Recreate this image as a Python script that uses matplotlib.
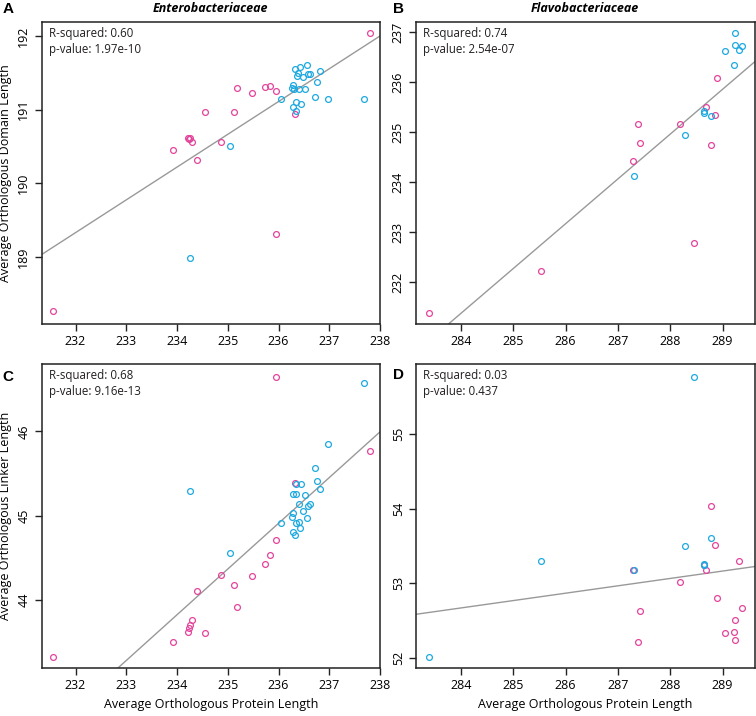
import matplotlib
matplotlib.use('Agg')
import matplotlib.pyplot as plt

plt.rcParams['font.family'] = ['Open Sans', 'DejaVu Sans']

pink = '#E2449C'
cyan = '#1DA9DF'

# Panel A - Enterobacteriaceae, domain length vs protein length
a_pink_x = [237.80, 235.19, 235.48, 235.73, 235.84, 235.95, 234.55, 235.12, 234.21, 234.25,
            234.24, 234.29, 233.93, 234.86, 234.40, 235.95, 231.55, 236.32]
a_pink_y = [192.04, 191.29, 191.22, 191.31, 191.32, 191.25, 190.97, 190.97, 190.62, 190.62,
            190.60, 190.56, 190.45, 190.56, 190.31, 189.31, 188.26, 190.94]
a_cyan_x = [236.56, 236.42, 236.32, 236.81, 236.39, 236.36, 236.49, 236.58, 236.62, 236.76,
            236.28, 236.27, 236.30, 236.41, 236.52, 236.05, 236.71, 236.98, 237.69, 236.35,
            236.45, 236.29, 236.35, 235.04, 234.26]
a_cyan_y = [191.60, 191.58, 191.55, 191.52, 191.50, 191.46, 191.45, 191.49, 191.49, 191.37,
            191.34, 191.29, 191.28, 191.28, 191.28, 191.15, 191.17, 191.14, 191.14, 191.10,
            191.08, 191.04, 190.98, 190.51, 188.99]

# Panel B - Flavobacteriaceae, domain length
b_pink_x = [283.38, 285.53, 288.45, 287.29, 287.38, 287.43, 288.18, 288.69, 288.86, 288.78, 288.90]
b_pink_y = [231.39, 232.23, 232.79, 234.43, 235.16, 234.79, 235.17, 235.51, 235.35, 234.75, 236.09]
b_cyan_x = [287.31, 288.28, 288.64, 288.64, 288.77, 289.22, 289.04, 289.24, 289.24, 289.38, 289.32]
b_cyan_y = [234.13, 234.95, 235.42, 235.39, 235.33, 236.35, 236.63, 236.99, 236.74, 236.73, 236.65]

# Panel C - Enterobacteriaceae, linker length
c_pink_x = [235.95, 237.80, 236.32, 235.95, 235.84, 235.73, 235.48, 234.86, 235.12, 235.19,
            234.40, 234.30, 234.26, 234.24, 234.21, 234.55, 233.93, 231.55]
c_pink_y = [46.65, 45.77, 45.39, 44.71, 44.53, 44.43, 44.28, 44.30, 44.17, 43.91,
            44.11, 43.76, 43.70, 43.66, 43.62, 43.60, 43.50, 43.32]
c_cyan_x = [237.69, 236.98, 236.71, 236.76, 236.81, 236.35, 236.45, 236.29, 236.35, 236.52,
            236.41, 236.58, 236.62, 236.49, 236.28, 236.27, 236.56, 236.05, 236.35, 236.41,
            236.42, 236.28, 236.32, 235.04, 234.26]
c_cyan_y = [46.57, 45.85, 45.56, 45.41, 45.31, 45.38, 45.37, 45.26, 45.26, 45.25,
            45.14, 45.11, 45.14, 45.05, 45.03, 44.98, 44.97, 44.91, 44.91, 44.92,
            44.85, 44.80, 44.77, 44.55, 45.29]

# Panel D - Flavobacteriaceae, linker length
d_pink_x = [288.78, 288.86, 289.32, 288.69, 288.18, 288.90, 289.38, 287.43, 289.24, 289.05,
            289.22, 289.24, 287.38, 287.29, 288.64]
d_pink_y = [54.03, 53.51, 53.30, 53.17, 53.01, 52.80, 52.66, 52.63, 52.50, 52.33,
            52.34, 52.24, 52.21, 53.18, 53.24]
d_cyan_x = [288.45, 283.38, 285.53, 287.30, 288.28, 288.77, 288.64, 288.64]
d_cyan_y = [55.77, 52.01, 53.30, 53.18, 53.50, 53.61, 53.26, 53.24]

# regression lines (slope, intercept) as drawn
fits = {'A': (0.445, 86.09), 'B': (0.896, -23.08), 'C': (0.543, -83.24), 'D': (0.099, 24.55)}
stats = {'A': ('0.60', '1.97e-10'), 'B': ('0.74', '2.54e-07'),
         'C': ('0.68', '9.16e-13'), 'D': ('0.03', '0.437')}

ento_xticks = [232, 233, 234, 235, 236, 237, 238]
flavo_xticks = [284, 285, 286, 287, 288, 289]

W, H = 756, 716
fig = plt.figure(figsize=(W / 100, H / 100), dpi=100)


def box(l, t, r, b):
    return [l / W, 1 - b / H, (r - l) / W, (b - t) / H]


panels = {
    'A': (box(41.5, 22, 380, 324), a_pink_x, a_pink_y, a_cyan_x, a_cyan_y,
          (231.33, 238.0), (188.09, 192.19), ento_xticks, [189, 190, 191, 192]),
    'B': (box(416, 22, 755, 324), b_pink_x, b_pink_y, b_cyan_x, b_cyan_y,
          (283.14, 289.62), (231.17, 237.21), flavo_xticks, [232, 233, 234, 235, 236, 237]),
    'C': (box(41.5, 364, 380, 668), c_pink_x, c_pink_y, c_cyan_x, c_cyan_y,
          (231.33, 238.0), (43.19, 46.80), ento_xticks, [44, 45, 46]),
    'D': (box(416, 364, 755, 668), d_pink_x, d_pink_y, d_cyan_x, d_cyan_y,
          (283.14, 289.62), (51.86, 55.94), flavo_xticks, [52, 53, 54, 55]),
}

axes = {}
for name, (pos, px, py, cx, cy, xl, yl, xt, yt) in panels.items():
    ax = fig.add_axes(pos)
    axes[name] = ax
    slope, icpt = fits[name]
    ax.axline((0, icpt), slope=slope, color='#999999', lw=1.0, zorder=1)
    ax.plot(px, py, 'o', mfc='none', mec=pink, ms=4.2, mew=0.9, zorder=2)
    ax.plot(cx, cy, 'o', mfc='none', mec=cyan, ms=4.2, mew=0.9, zorder=3)
    ax.set_xlim(xl)
    ax.set_ylim(yl)
    ax.set_xticks(xt)
    ax.set_yticks(yt)
    ax.set_yticklabels([str(v) for v in yt], rotation=90, va='center')
    ax.tick_params(direction='out', length=5, width=1, labelsize=9, pad=3, color='#222222')
    for s in ax.spines.values():
        s.set_linewidth(1.1)
        s.set_color('#222222')
    r2, pv = stats[name]
    ax.text(0.022, 0.985, 'R-squared: ' + r2 + '\np-value: ' + pv, transform=ax.transAxes,
            ha='left', va='top', fontsize=8.3, linespacing=1.35, color='#231f20')

axes['A'].set_ylabel('Average Orthologous Domain Length', fontsize=9, labelpad=4)
axes['C'].set_ylabel('Average Orthologous Linker Length', fontsize=9, labelpad=4)
axes['C'].set_xlabel('Average Orthologous Protein Length', fontsize=9, labelpad=4)
axes['D'].set_xlabel('Average Orthologous Protein Length', fontsize=9, labelpad=4)

fig.text(210 / W, 1 - 8 / H, 'Enterobacteriaceae', ha='center', va='center',
         fontsize=9, fontweight='bold', fontstyle='italic')
fig.text(585 / W, 1 - 8 / H, 'Flavobacteriaceae', ha='center', va='center',
         fontsize=9, fontweight='bold', fontstyle='italic')

for lab, x, y in [('A', 8, 9), ('B', 398, 9), ('C', 8, 377), ('D', 398, 375)]:
    fig.text(x / W, 1 - y / H, lab, ha='center', va='center', fontsize=11,
             fontweight='bold', family='Liberation Sans')

fig.savefig('out.png', dpi=100)
